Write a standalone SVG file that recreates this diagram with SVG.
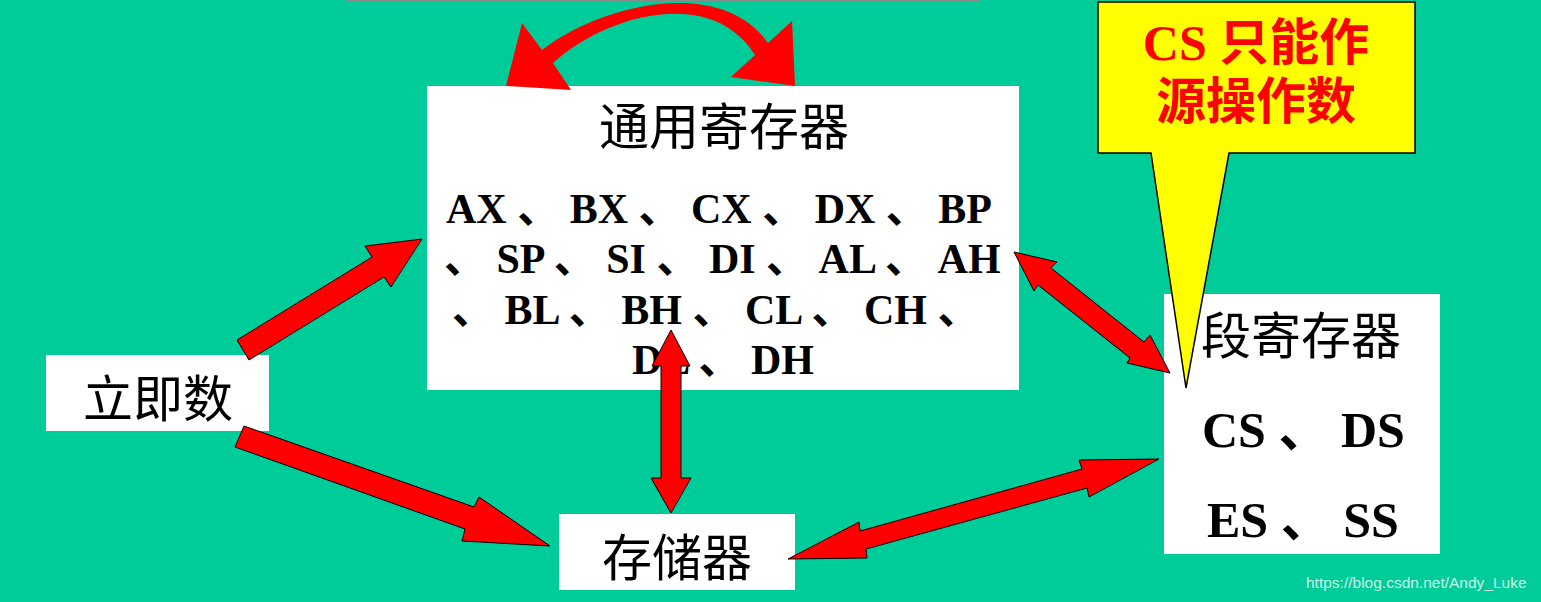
<svg xmlns="http://www.w3.org/2000/svg" width="1541" height="602" viewBox="0 0 1541 602">
<style>
.box{fill:#FFFFFF;}
.cjk{font-family:"Noto Sans CJK SC","Noto Sans CJK TC",sans-serif;font-size:50px;fill:#000000;text-anchor:middle;}
.reg{font-family:"Liberation Serif","Noto Sans CJK SC",serif;font-weight:bold;font-size:42px;fill:#000000;}
.seg{font-family:"Liberation Serif","Noto Sans CJK SC",serif;font-weight:bold;font-size:50px;fill:#000000;}
.arrow{fill:#FF0000;stroke:#000000;stroke-width:1;stroke-linejoin:miter;}
.note{font-family:"Liberation Serif","Noto Sans CJK SC",serif;font-weight:bold;font-size:50px;fill:#FF0000;text-anchor:middle;}
.wm{font-family:"Liberation Sans",Arial,sans-serif;font-size:15.5px;fill:#FFFFFF;fill-opacity:0.8;}
</style>
<rect x="0" y="0" width="1541" height="602" fill="#00CC99"/>
<rect x="345" y="0" width="635" height="2" fill="#8A8A8A"/>

<g id="general-registers">
<rect class="box" x="427" y="86" width="592" height="304"/>
<text class="cjk" x="724" y="145">通用寄存器</text>
<text class="reg" x="446" y="223" xml:space="preserve">AX 、 BX 、 CX 、 DX 、 BP</text>
<text class="reg" x="444" y="273" xml:space="preserve">、 SP 、 SI 、 DI 、 AL 、 AH</text>
<text class="reg" x="452" y="324" xml:space="preserve">、 BL 、 BH 、 CL 、 CH 、</text>
<text class="reg" x="632" y="374" xml:space="preserve">DL 、 DH</text>
</g>

<g id="immediate">
<rect class="box" x="46" y="355" width="223" height="76"/>
<text class="cjk" x="158" y="417">立即数</text>
</g>

<g id="memory">
<rect class="box" x="559" y="514" width="236" height="76"/>
<text class="cjk" x="677" y="576">存储器</text>
</g>

<g id="segment-registers">
<rect class="box" x="1164" y="294" width="276" height="260"/>
<text class="cjk" x="1301" y="354">段寄存器</text>
<text class="seg" x="1202" y="447" xml:space="preserve">CS 、 DS</text>
<text class="seg" x="1207" y="537" xml:space="preserve">ES 、 SS</text>
</g>

<g id="connectors">
<path fill="#FF0000" d="M506,86 L522,23 L542,50 C600,5 720,-25 768,43 L792,21 L795,86 L731,77 L755,55 C712,-15 605,15 553,63 L571,90 Z"/>
<polygon class="arrow" points="237,340 372,257 365,246 422,239 391,287 384,277 249,360"/>
<polygon class="arrow" points="244,426 474,507 479,497 550,546 462,541 465,529 235,447"/>
<polygon class="arrow" points="671,330 690,366 681,366 681,478 691,478 671,513 651,478 661,478 661,366 652,366"/>
<polygon class="arrow" points="1014,252 1057,262 1051,268 1144,342 1150,335 1170,373 1127,363 1130,358 1038,285 1034,291"/>
<polygon class="arrow" points="788,559 859,522 860,531 1082,469 1079,460 1159,459 1089,497 1087,488 866,549 867,558"/>
</g>

<g id="callout">
<path d="M1098,2 H1415 V153 H1229 L1186,388 L1151,153 H1098 Z" fill="#FFFF00" stroke="#000000" stroke-width="1.5"/>
<text class="note" x="1256" y="60" xml:space="preserve">CS 只能作</text>
<text class="note" x="1256" y="119">源操作数</text>
</g>

<text class="wm" x="1306" y="588">https://blog.csdn.net/Andy_Luke</text>
</svg>
